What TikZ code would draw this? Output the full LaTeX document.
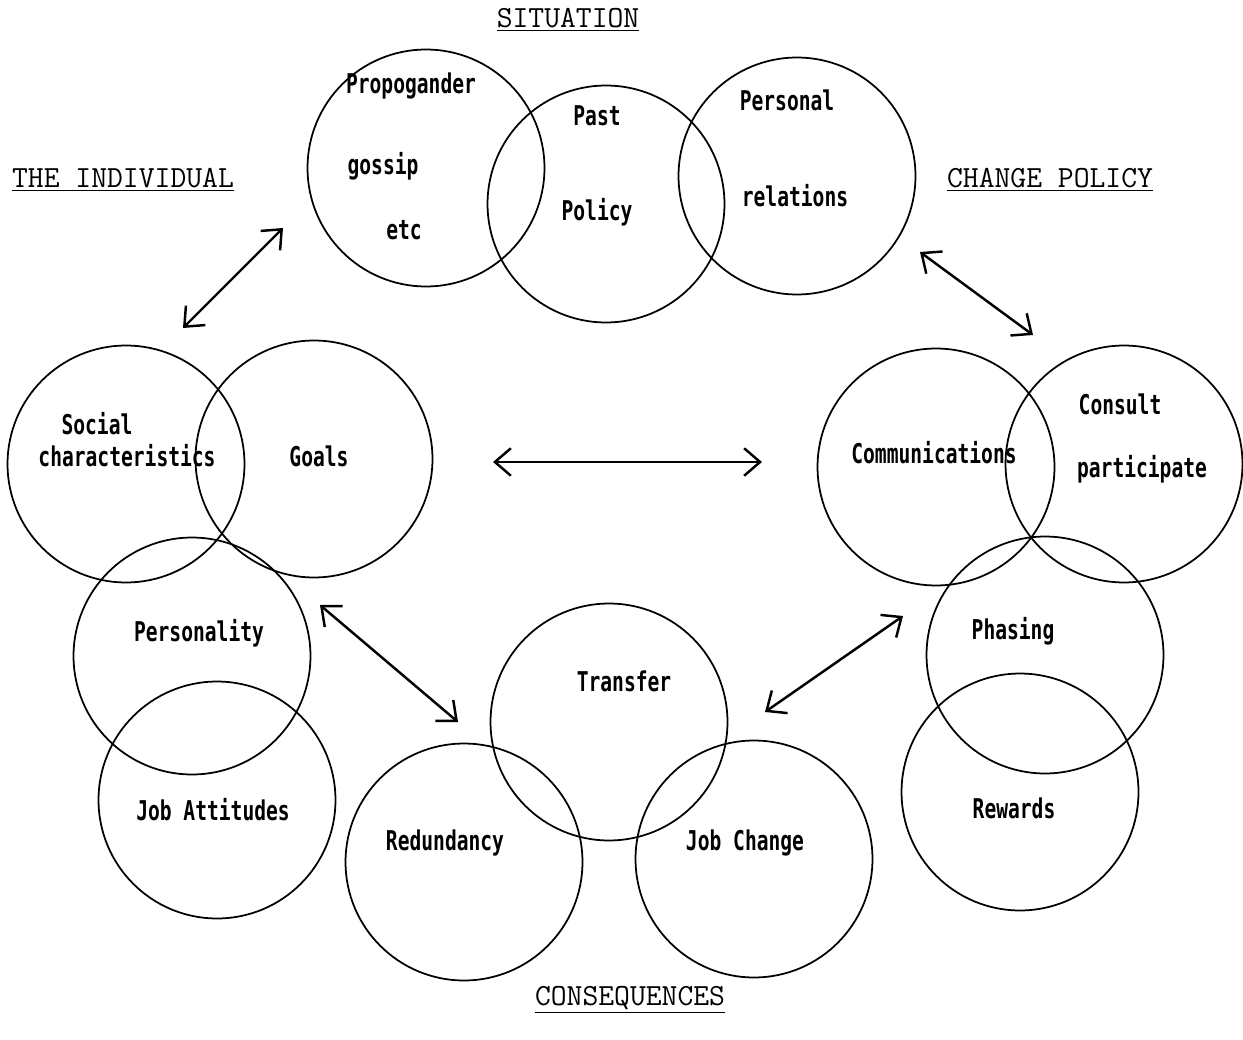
\documentclass[tikz,border=0pt]{standalone}
\usepackage{fontspec}
\newfontfamily\circfont{DejaVu Sans Mono}[FakeStretch=0.72]
\usetikzlibrary{arrows.meta}

\begin{document}
\begin{tikzpicture}[
  x=0.02cm, y=-0.02cm,
  every node/.style={inner sep=0pt},
  set/.style={circle, draw, line width=1pt, minimum size=4.74cm},
  txt/.style={font=\circfont\bfseries\fontsize{15.5}{18}\selectfont},
  head/.style={font=\ttfamily\fontsize{17.5}{20}\selectfont},
  arr/.style={{Straight Barb[length=3.2mm,width=5.5mm]}-{Straight Barb[length=3.2mm,width=5.5mm]}, line width=1.4pt}
]
  \useasboundingbox (0,0) rectangle (1243,1040);

  % headings
  \node[head] (situation) at (568,20) {\underline{SITUATION}};
  \node[head] (individual) at (123,180) {\underline{THE INDIVIDUAL}};
  \node[head] (changepol) at (1050,180) {\underline{CHANGE POLICY}};
  \node[head] (conseq) at (630,1000) {\underline{CONSEQUENCES}};

  % situation
  \node[set] (propo) at (426,168) {};
  \node[set] (past) at (606,204) {};
  \node[set] (pers) at (797,176) {};
  \node[txt] (propotxt) at (411,86) {Propogander};
  \node[txt] (gossip) at (383,166) {gossip};
  \node[txt] (etc) at (404,230) {etc};
  \node[txt] (pasttxt) at (597,116) {Past};
  \node[txt] (policy) at (597,212) {Policy};
  \node[txt] (perstxt) at (787,100) {Personal};
  \node[txt] (relations) at (795,196) {relations};

  % the individual
  \node[set] (social) at (126,464) {};
  \node[set] (goals) at (314,459) {};
  \node[set] (person) at (192,656) {};
  \node[set] (attit) at (217,800) {};
  \node[txt] (socialtxt) at (97,424) {Social};
  \node[txt] (charac) at (127,456) {characteristics};
  \node[txt] (goalstxt) at (319,456) {Goals};
  \node[txt] (persontxt) at (199,633) {Personality};
  \node[txt] (attittxt) at (213,810) {Job Attitudes};

  % consequences
  \node[set] (transfer) at (609,722) {};
  \node[set] (redund) at (464,862) {};
  \node[set] (jobch) at (754,859) {};
  \node[txt] (transfertxt) at (624,681) {Transfer};
  \node[txt] (redundtxt) at (445,843) {Redundancy};
  \node[txt] (jobchtxt) at (745,843) {Job Change};

  % change policy
  \node[set] (comm) at (936,467) {};
  \node[set] (consult) at (1124,464) {};
  \node[set] (phasing) at (1045,655) {};
  \node[set] (rewards) at (1020,792) {};
  \node[txt] (commtxt) at (934,453) {Communications};
  \node[txt] (consulttxt) at (1120,404) {Consult};
  \node[txt] (particip) at (1142,469) {participate};
  \node[txt] (phasingtxt) at (1013,631) {Phasing};
  \node[txt] (rewardstxt) at (1014,808) {Rewards};

  % arrow ends
  \coordinate (indA) at (183,328);
  \coordinate (sitA) at (283,228);
  \coordinate (midL) at (493,462);
  \coordinate (midR) at (762,462);
  \coordinate (sitB) at (920,252);
  \coordinate (polA) at (1033,335);
  \coordinate (indB) at (320,605);
  \coordinate (conA) at (458,722);
  \coordinate (conB) at (765,712);
  \coordinate (polB) at (903,616);

  \draw[arr] (indA) -- (sitA);
  \draw[arr] (midL) -- (midR);
  \draw[arr] (sitB) -- (polA);
  \draw[arr] (indB) -- (conA);
  \draw[arr] (conB) -- (polB);
\end{tikzpicture}
\end{document}
